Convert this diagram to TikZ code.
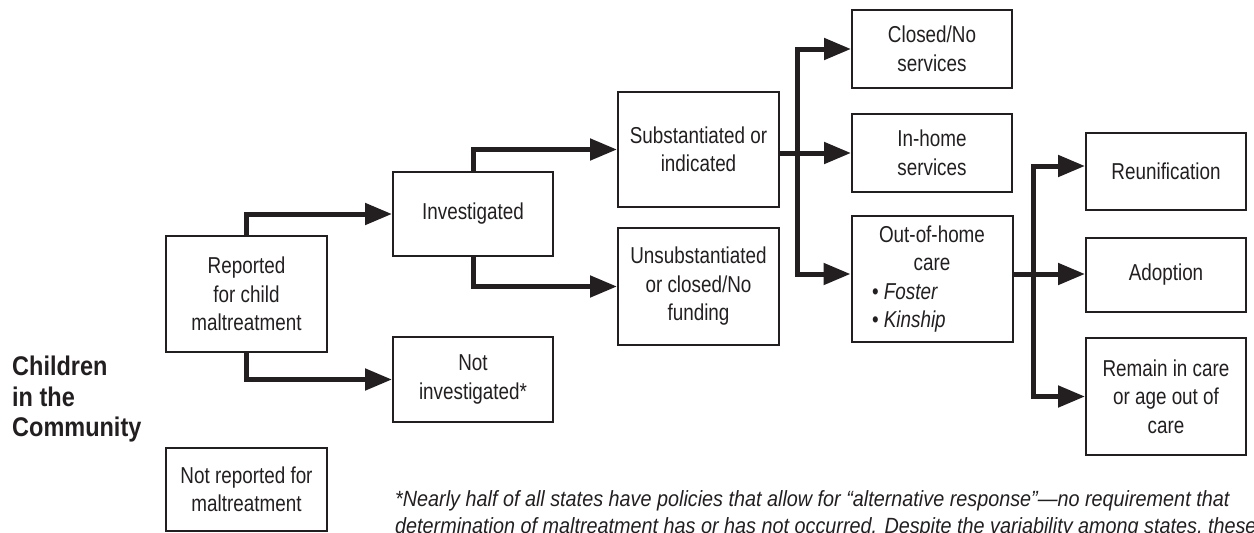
\documentclass[tikz,border=0pt]{standalone}
\usepackage{fontspec}
\setmainfont{Liberation Sans}[FakeStretch=0.82]
\newfontfamily\headfont{Liberation Sans}[FakeStretch=0.87]
\newfontfamily\notefont{Liberation Sans}[FakeStretch=0.9]
\usetikzlibrary{arrows.meta}
\definecolor{ink}{HTML}{231F20}
\begin{document}
\begin{tikzpicture}[x=1pt,y=-1pt,
  box/.style={draw=ink, line width=2pt, text=ink, align=center, inner sep=2pt,
    font=\fontsize{23}{28.5}\selectfont},
  conn/.style={draw=ink, line width=5pt},
  arr/.style={conn, -{Triangle[length=27pt,width=21pt]}}]
\useasboundingbox (0,0) rectangle (1254,533);

% boxes
\node[box, minimum width=161pt, minimum height=116pt] (rep) at (246.5,294) {Reported\\for child\\maltreatment};
\node[box, minimum width=161pt, minimum height=83pt] (notrep) at (246.5,489.5) {Not reported for\\maltreatment};
\node[box, minimum width=160pt, minimum height=84pt] (inv) at (473,214) {Investigated};
\node[box, minimum width=160pt, minimum height=85pt] (notinv) at (473,379.5) {Not\\investigated*};
\node[box, minimum width=161pt, minimum height=115pt] (sub) at (698.5,149.5) {Substantiated or\\indicated};
\node[box, minimum width=161pt, minimum height=117pt] (unsub) at (698.5,286.5) {Unsubstantiated\\or closed/No\\funding};
\node[box, minimum width=160pt, minimum height=78pt] (closed) at (932,49) {Closed/No\\services};
\node[box, minimum width=160pt, minimum height=78pt] (inhome) at (932,153) {In-home\\services};
\node[box, minimum width=161pt, minimum height=126pt, align=left] (ooh) at (932,279)
  {\makebox[120pt][c]{Out-of-home}\\\makebox[120pt][c]{care}\\\textbullet\ \textit{Foster}\\\textbullet\ \textit{Kinship}};
\node[box, minimum width=160pt, minimum height=77pt] (reun) at (1166,171.5) {Reunification};
\node[box, minimum width=160pt, minimum height=74pt] (adopt) at (1166,275) {Adoption};
\node[box, minimum width=160pt, minimum height=117pt] (remain) at (1166,396.5) {Remain in care\\or age out of\\care};

% side title
\node[anchor=west, inner sep=0pt, align=left, text=ink,
  font=\headfont\bfseries\fontsize{27}{30.5}\selectfont] (kids) at (12,399.5) {Children\\in the\\Community};

% footnote
\node[anchor=north west, inner sep=0pt, align=left, text=ink,
  font=\notefont\itshape\fontsize{22}{26.5}\selectfont] (note) at (395,490.5)
  {*Nearly half of all states have policies that allow for “alternative response”—no requirement that\\
   determination of maltreatment has or has not occurred. Despite the variability among states, these};

% junction points
\coordinate (j1) at (797,150);
\coordinate (j2) at (1033,274);

% connectors
\draw[arr] (rep.north) |- (inv.west);
\draw[arr] (rep.south) |- (notinv.west);
\draw[arr] (inv.north) |- (sub.west);
\draw[arr] (inv.south) |- (unsub.west);

\draw[arr] ([yshift=5pt]ooh.west -| j1) -- (j1 |- closed.west) -- (closed.west);
\draw[arr] (j1 |- closed.west) -- ([yshift=5pt]ooh.west -| j1) -- ([yshift=5pt]ooh.west);
\draw[arr] (inhome.west -| sub.east) -- (inhome.west);

\draw[arr] ([yshift=5pt]ooh.east) -- ([yshift=5pt]ooh.east -| adopt.west);
\draw[arr] (remain.west -| j2) -- ([yshift=5.5pt]reun.west -| j2) -- ([yshift=5.5pt]reun.west);
\draw[arr] ([yshift=5.5pt]reun.west -| j2) -- (remain.west -| j2) -- (remain.west);
\end{tikzpicture}
\end{document}
